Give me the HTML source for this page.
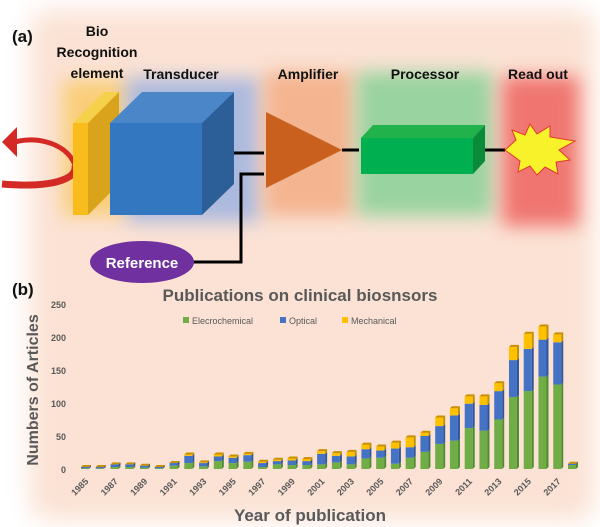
<!DOCTYPE html>
<html><head><meta charset="utf-8">
<style>
html,body{margin:0;padding:0;background:#fff;}
svg{display:block;font-family:"Liberation Sans",sans-serif;}
</style></head>
<body>
<svg id="fig" width="600" height="527" viewBox="0 0 600 527">
<defs>
<filter id="blur8" x="-30%" y="-30%" width="160%" height="160%"><feGaussianBlur stdDeviation="9"/></filter>
<filter id="blur14" x="-10%" y="-10%" width="120%" height="120%"><feGaussianBlur stdDeviation="12"/></filter>
</defs>
<rect x="30" y="10" width="565" height="510" rx="20" fill="#fbe2d4" filter="url(#blur14)"/>
<g>
<rect x="63" y="80" width="64" height="136" fill="#f9c75a" opacity="0.75" filter="url(#blur8)"/>
<rect x="126" y="78" width="134" height="144" fill="#9fb3e0" opacity="0.85" filter="url(#blur8)"/>
<rect x="264" y="72" width="90" height="144" fill="#f3ad84" opacity="0.85" filter="url(#blur8)"/>
<rect x="357" y="72" width="136" height="144" fill="#8fd29a" opacity="0.9" filter="url(#blur8)"/>
<rect x="502" y="76" width="77" height="150" fill="#ef6a66" opacity="0.9" filter="url(#blur8)"/>
</g>
<text x="12" y="42" font-size="17" font-weight="bold" fill="#111">(a)</text>
<g font-size="14" font-weight="bold" fill="#111" text-anchor="middle">
<text x="97" y="36">Bio</text>
<text x="97" y="57">Recognition</text>
<text x="97" y="78">element</text>
<text x="181" y="79">Transducer</text>
<text x="308" y="79">Amplifier</text>
<text x="425" y="79">Processor</text>
<text x="538" y="79">Read out</text>
</g>
<path d="M75,165 C65,140 30,136 12,143" stroke="#d42a26" stroke-width="5" fill="none"/>
<path d="M75,165 C78,180 50,188 2,184" stroke="#d42a26" stroke-width="7" fill="none"/>
<polygon points="2,142 17,127 17,157" fill="#d42a26"/>
<polygon points="73,123 88,123 119,92 104,92" fill="#f5d04a"/>
<polygon points="88,123 119,92 119,184 88,215" fill="#d9a31c"/>
<rect x="73" y="123" width="15" height="92" fill="#f8bd1c"/>
<polygon points="110,123 202,123 234,92 142,92" fill="#4a86c8"/>
<polygon points="202,123 234,92 234,184 202,215" fill="#2c5f98"/>
<rect x="110" y="123" width="92" height="92" fill="#3277c0"/>
<g stroke="#000" stroke-width="3" fill="none">
<path d="M234,153 H264"/><path d="M264,174 H241 V262 H193"/><path d="M342,150 H359"/><path d="M485,150 H505"/>
</g>
<polygon points="266,112 266,188 342,150" fill="#c9601e"/>
<polygon points="361,138 473,138 485,125 373,125" fill="#22b24c"/>
<polygon points="473,138 485,125 485,161 473,174" fill="#0b8a3a"/>
<rect x="361" y="138" width="112" height="36" fill="#00b050"/>
<polygon points="505,150 516,140 512,130 525,135 530,124 537,134 550,126 550,137 575,141 559,150 570,160 556,162 558,174 545,167 537,175 530,166 518,172 520,161" fill="#f7f22a" stroke="#e03a2a" stroke-width="1"/>
<ellipse cx="142" cy="262" rx="52" ry="21" fill="#7030a0"/>
<text x="142" y="268" font-size="15" font-weight="bold" fill="#fff" text-anchor="middle">Reference</text>
<text x="12" y="295" font-size="17" font-weight="bold" fill="#111">(b)</text>
<text x="300" y="301" font-size="17" font-weight="bold" fill="#595959" text-anchor="middle">Publications on clinical biosnsors</text>
<g font-size="9" fill="#595959">
<rect x="183" y="317" width="6" height="6" fill="#70ad47"/>
<text x="192" y="324">Elecrochemical</text>
<rect x="280" y="317" width="6" height="6" fill="#4472c4"/>
<text x="289" y="324">Optical</text>
<rect x="342" y="317" width="6" height="6" fill="#ffc000"/>
<text x="351" y="324">Mechanical</text>
</g>
<text transform="translate(38,390) rotate(-90)" font-size="16" font-weight="bold" fill="#595959" text-anchor="middle">Numbers of Articles</text>
<text x="310" y="521" font-size="17" font-weight="bold" fill="#595959" text-anchor="middle">Year of publication</text>
<g id="yticks"></g>
<g id="xticks"></g>
<g id="bars"></g>
</svg>
<script>
const years = [1985,1986,1987,1988,1989,1990,1991,1992,1993,1994,1995,1996,1997,1998,1999,2000,2001,2002,2003,2004,2005,2006,2007,2008,2009,2010,2011,2012,2013,2014,2015,2016,2017,2018];
const electro = [1,1,3,3,2,1,5,9,4,12,9,11,3,7,6,6,7,10,7,16,17,8,17,26,38,43,62,58,75,109,118,140,128,6];
const optical = [2,2,4,4,3,2,4,11,5,7,8,10,6,5,7,6,16,10,12,14,11,23,16,24,27,38,37,39,43,56,64,56,64,2];
const mechanical = [0,0,0,0,0,0,0,2,1,3,2,2,2,2,3,3,4,4,7,7,6,9,15,5,13,11,11,13,12,20,23,20,12,0];
const yTicks = [0,50,100,150,200,250];
const NS = "http://www.w3.org/2000/svg";
const y0 = 469, pxPerUnit = 0.66;
const yScale = v => y0 - v*pxPerUnit;
const x0 = 85, step = (572-85)/(years.length-1);
const xScale = i => x0 + i*step;
const bw = 8, dep = 2;
function mk(tag, attrs, parent){const e=document.createElementNS(NS,tag);for(const k in attrs)e.setAttribute(k,attrs[k]);parent.appendChild(e);return e;}
const yg = document.getElementById('yticks');
yTicks.forEach(t=>{
  const e = mk('text',{x:66,y:yScale(t)+4,'font-size':9,'font-weight':'bold',fill:'#595959','text-anchor':'end'},yg);
  e.textContent = t;
  
  
});
const xg = document.getElementById('xticks');
years.forEach((yr,i)=>{
  if(i%2!==0 || yr>2017) return;
  const x = xScale(i)+4, y = 482;
  const e = mk('text',{x:x,y:y,'font-size':9,'font-weight':'bold',fill:'#595959','text-anchor':'end',transform:`rotate(-45 ${x} ${y})`},xg);
  e.textContent = yr;
  
  
});
const bg = document.getElementById('bars');
const series = [[electro,'#70ad47','#4e8a2e','electrochemical'],[optical,'#4472c4','#2f5597','optical'],[mechanical,'#ffc000','#bf9000','mechanical']];
years.forEach((yr,i)=>{
  let base = 0;
  const cx = xScale(i) - bw/2;
  series.forEach(([arr,col,dark,nm])=>{
    const v = arr[i];
    if(v<=0) return;
    const yt = yScale(base+v), yb = yScale(base);
    const side = mk('polygon',{points:`${cx+bw},${yt} ${cx+bw+dep},${yt-dep} ${cx+bw+dep},${yb-dep} ${cx+bw},${yb}`,fill:dark},bg);
    
    
    const r = mk('rect',{x:cx,y:yt,width:bw,height:Math.max(yb-yt,0.5),fill:col},bg);
    
    
    base += v;
  });
  const top = mk('polygon',{points:`${cx},${yScale(base)} ${cx+bw},${yScale(base)} ${cx+bw+dep},${yScale(base)-dep} ${cx+dep},${yScale(base)-dep}`,fill:'#c98f00'},bg);
  
  
});
</script>
</body></html>
